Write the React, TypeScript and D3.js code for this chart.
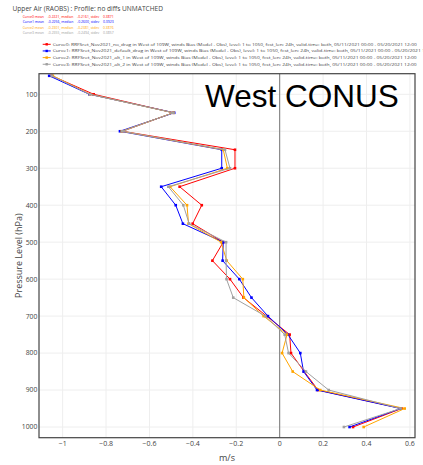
import React from "react";
import * as d3 from "d3";

const levels = [50, 100, 150, 200, 250, 300, 350, 400, 450, 500, 550, 600, 650, 700, 750, 800, 850, 900, 950, 1000];
const curve0 = [-1.05, -0.857, -0.49, -0.725, -0.206, -0.206, -0.461, -0.359, -0.401, -0.26, -0.31, -0.229, -0.167, -0.06, 0.046, 0.052, 0.113, 0.177, 0.562, 0.338];
const curve1 = [-1.062, -0.877, -0.486, -0.736, -0.267, -0.267, -0.546, -0.479, -0.446, -0.26, -0.263, -0.186, -0.13, -0.054, 0.038, 0.095, 0.11, 0.172, 0.557, 0.322];
const curve2 = [-1.045, -0.874, -0.49, -0.728, -0.26, -0.241, -0.505, -0.427, -0.42, -0.27, -0.244, -0.17, -0.165, -0.074, 0.034, 0.011, 0.06, 0.187, 0.576, 0.387];
const curve3 = [-1.05, -0.874, -0.49, -0.725, -0.252, -0.229, -0.513, -0.444, -0.417, -0.247, -0.247, -0.245, -0.214, -0.066, 0.023, 0.041, 0.121, 0.226, 0.557, 0.296];

const curveColors = ["#ff0000", "#0000ff", "#ffa500", "#a0a0a0"];
const curveNames = [
  "Curve0: RRFSret_Nov2021_no_drag in West of 109W, winds Bias (Model - Obs), level: 1 to 1050, fcst_len: 24h, valid-time: both, 05/11/2021 00:00 - 05/20/2021 12:00",
  "Curve1: RRFSret_Nov2021_default_drag in West of 109W, winds Bias (Model - Obs), level: 1 to 1050, fcst_len: 24h, valid-time: both, 05/11/2021 00:00 - 05/20/2021 12:00",
  "Curve2: RRFSret_Nov2021_alt_1 in West of 109W, winds Bias (Model - Obs), level: 1 to 1050, fcst_len: 24h, valid-time: both, 05/11/2021 00:00 - 05/20/2021 12:00",
  "Curve3: RRFSret_Nov2021_alt_2 in West of 109W, winds Bias (Model - Obs), level: 1 to 1050, fcst_len: 24h, valid-time: both, 05/11/2021 00:00 - 05/20/2021 12:00",
];
const statLines = [
  "Curve0 mean = -0.2221, median = -0.2161, stdev = 0.3871",
  "Curve1 mean = -0.2256, median = -0.2600, stdev = 0.3923",
  "Curve2 mean = -0.2301, median = -0.2381, stdev = 0.3876",
  "Curve3 mean = -0.2355, median = -0.2494, stdev = 0.3857",
];
const xTicks = [-1, -0.8, -0.6, -0.4, -0.2, 0, 0.2, 0.4, 0.6];
const yTicks = [100, 200, 300, 400, 500, 600, 700, 800, 900, 1000];

const W = 423;
const H = 465;
const L = 39, R = 415, T = 73.7, B = 437.7;

export default function App() {
  const x = d3.scaleLinear().domain([-1.109, 0.6235]).range([L, R]);
  const y = d3.scaleLinear().domain([44.3, 1028.9]).range([T, B]);
  const series = [curve0, curve1, curve2, curve3];
  const line = d3
    .line<number>()
    .x((d) => x(d))
    .y((_, i) => y(levels[i]));
  const fmt = (v: number) => (v < 0 ? "\u2212" + Math.abs(v) : String(v));
  const font = "'Open Sans', 'Liberation Sans', Arial, sans-serif";

  return (
    <svg width={W} height={H} style={{ position: "absolute", left: 0, top: 0, background: "#fff" }}>
      <rect x={0} y={0} width={W} height={H} fill="#fff" />
      <text x={12.5} y={10.5} fontSize={6.6} fill="#444" fontFamily={font}>
        Upper Air (RAOBS) : Profile: no diffs UNMATCHED
      </text>
      {statLines.map((s, i) => (
        <text key={s} x={22.7} y={18 + i * 5.4} fontSize={3.6} fill={curveColors[i]} fontFamily={font} textLength={91} lengthAdjust="spacingAndGlyphs">
          {s}
        </text>
      ))}
      {curveNames.map((s, i) => {
        const ly = 44.3 + i * 6.65;
        return (
          <g key={s}>
            <line x1={42.7} x2={50.7} y1={ly} y2={ly} stroke={curveColors[i]} strokeWidth={1} />
            <rect x={45.5} y={ly - 1.2} width={2.4} height={2.4} fill={curveColors[i]} />
            <text x={52.7} y={ly + 1.5} fontSize={4.3} fill="#444" fontFamily={font} textLength={i === 1 ? 382 : 364} lengthAdjust="spacingAndGlyphs">
              {s}
            </text>
          </g>
        );
      })}
      {/* grid */}
      {xTicks.map((t) => (
        <line key={"gx" + t} x1={x(t)} x2={x(t)} y1={T} y2={B} stroke="#eee" strokeWidth={1} />
      ))}
      {yTicks.map((t) => (
        <line key={"gy" + t} x1={L} x2={R} y1={y(t)} y2={y(t)} stroke="#eee" strokeWidth={1} />
      ))}
      <line x1={x(0)} x2={x(0)} y1={T} y2={B} stroke="#777" strokeWidth={1} />
      <text x={205} y={106.7} fontSize={31.5} fill="#000" fontFamily="'Liberation Sans', Arial, sans-serif">
        West CONUS
      </text>
      {series.map((s, i) => (
        <g key={"s" + i}>
          <path d={line(s) || ""} fill="none" stroke={curveColors[i]} strokeWidth={1} />
          {s.map((v, j) => (
            <rect key={j} x={x(v) - 1.3} y={y(levels[j]) - 1.3} width={2.6} height={2.6} fill={curveColors[i]} />
          ))}
        </g>
      ))}
      <rect x={L} y={T} width={R - L} height={B - T} fill="none" stroke="#444" strokeWidth={1.2} />
      {xTicks.map((t) => (
        <text key={"xt" + t} x={x(t)} y={446} fontSize={7} fill="#444" textAnchor="middle" fontFamily={font}>
          {fmt(t)}
        </text>
      ))}
      {yTicks.map((t) => (
        <text key={"yt" + t} x={37.3} y={y(t) + 2.4} fontSize={6.8} fill="#444" textAnchor="end" fontFamily={font}>
          {t}
        </text>
      ))}
      <text x={227} y={461} fontSize={9} fill="#444" textAnchor="middle" fontFamily={font}>
        m/s
      </text>
      <text transform={`translate(22,${(T + B) / 2}) rotate(-90)`} fontSize={9} fill="#444" textAnchor="middle" fontFamily={font}>
        Pressure Level (hPa)
      </text>
    </svg>
  );
}
